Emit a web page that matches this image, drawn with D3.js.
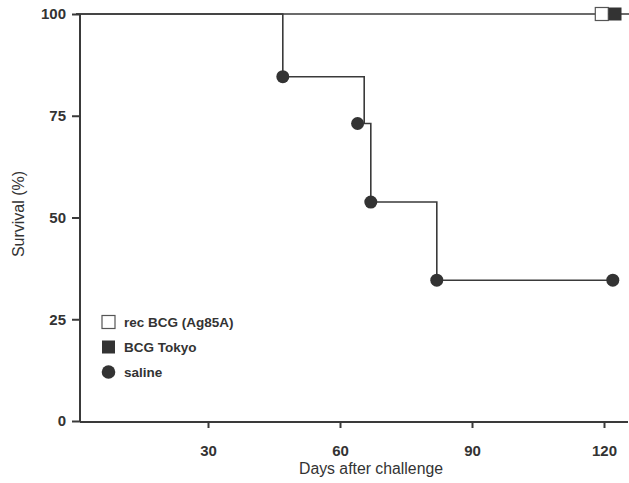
<!DOCTYPE html>
<html>
<head>
<meta charset="utf-8">
<script src="https://cdn.jsdelivr.net/npm/d3@7"></script>
<style>
  body { margin: 0; background: #fff; }
  svg text { font-family: "Liberation Sans", Arial, sans-serif; fill: #333; }
</style>
</head>
<body>
<svg id="chart" width="629" height="483"></svg>
<script>
// x ticks / y ticks
var xTicks = [30, 60, 90, 120];
var yTicks = [0, 25, 50, 75, 100];

// vaccinated groups stay at 100% the whole time
var vaccDays = [0, 126];
var vaccSurv = [100, 100];

// saline step curve (day, survival %)
var salineDays = [0, 47, 47, 65.5, 65.5, 67, 67, 82, 82, 122];
var salineSurv = [100, 100, 84.6, 84.6, 73.1, 73.1, 53.8, 53.8, 34.6, 34.6];

// marker points
var salineMarkDays = [47, 64, 67, 82, 122];
var salineMarkSurv = [84.6, 73.1, 53.8, 34.6, 34.6];
var recBcgMark = [119.5, 100];
var tokyoMark = [122.5, 100];

var legendLabels = ["rec BCG (Ag85A)", "BCG Tokyo", "saline"];

var svg = d3.select("#chart");
var ink = "#3a3a3a";

var x = d3.scaleLinear().domain([0, 120]).range([76, 604]);
var y = d3.scaleLinear().domain([0, 100]).range([421, 14]);

// axes
var yAxis = svg.append("g")
    .attr("transform", "translate(80,0)")
    .call(d3.axisLeft(y).tickValues(yTicks).tickSize(8).tickPadding(6));
yAxis.select(".domain").attr("d", "M0," + y(100) + "V" + (y(0) + 1));

var xAxis = svg.append("g")
    .attr("transform", "translate(0," + (y(0) + 1) + ")")
    .call(d3.axisBottom(x).tickValues(xTicks).tickSize(6).tickPadding(17));
xAxis.select(".domain").attr("d", "M80,0H628");

svg.selectAll(".domain, .tick line").attr("stroke", ink).attr("stroke-width", 2);
svg.selectAll(".tick text")
    .attr("font-size", 15)
    .attr("font-weight", "bold")
    .attr("fill", "#333");

// axis titles
svg.append("text")
    .attr("transform", "translate(24,214) rotate(-90)")
    .attr("text-anchor", "middle")
    .attr("font-size", 16)
    .text("Survival (%)");

svg.append("text")
    .attr("x", 371).attr("y", 474)
    .attr("text-anchor", "middle")
    .attr("font-size", 15.8)
    .text("Days after challenge");

var line = d3.line()
    .x(function(d) { return x(d[0]); })
    .y(function(d) { return y(d[1]); });

svg.append("path")
    .datum(d3.zip(vaccDays, vaccSurv))
    .attr("fill", "none")
    .attr("stroke", ink)
    .attr("stroke-width", 1.6)
    .attr("d", line);

svg.append("path")
    .datum(d3.zip(salineDays, salineSurv))
    .attr("fill", "none")
    .attr("stroke", ink)
    .attr("stroke-width", 1.6)
    .attr("d", line);

svg.selectAll("circle.saline")
    .data(d3.zip(salineMarkDays, salineMarkSurv))
    .enter().append("circle")
    .attr("class", "saline")
    .attr("cx", function(d) { return x(d[0]); })
    .attr("cy", function(d) { return y(d[1]); })
    .attr("r", 6.5)
    .attr("fill", "#333");

var sq = 13;
svg.append("rect")
    .attr("x", x(recBcgMark[0]) - sq / 2).attr("y", y(recBcgMark[1]) - sq / 2)
    .attr("width", sq).attr("height", sq)
    .attr("fill", "#fff").attr("stroke", "#555").attr("stroke-width", 1.2);
svg.append("rect")
    .attr("x", x(tokyoMark[0]) - sq / 2).attr("y", y(tokyoMark[1]) - sq / 2)
    .attr("width", sq).attr("height", sq)
    .attr("fill", "#333");

// legend
var lg = svg.append("g").attr("transform", "translate(108.5,322)");
legendLabels.forEach(function(lab, i) {
  var row = lg.append("g").attr("transform", "translate(0," + (i * 25) + ")");
  if (i === 0) {
    row.append("rect").attr("x", -6.5).attr("y", -6.5).attr("width", 13).attr("height", 13)
      .attr("fill", "#fff").attr("stroke", "#555").attr("stroke-width", 1.2);
  } else if (i === 1) {
    row.append("rect").attr("x", -6.5).attr("y", -6.5).attr("width", 13).attr("height", 13)
      .attr("fill", "#333");
  } else {
    row.append("circle").attr("r", 6.8).attr("fill", "#333");
  }
  row.append("text")
    .attr("x", 15.5).attr("y", 5)
    .attr("font-size", 13.5)
    .attr("font-weight", "bold")
    .text(lab);
});
</script>
</body>
</html>
